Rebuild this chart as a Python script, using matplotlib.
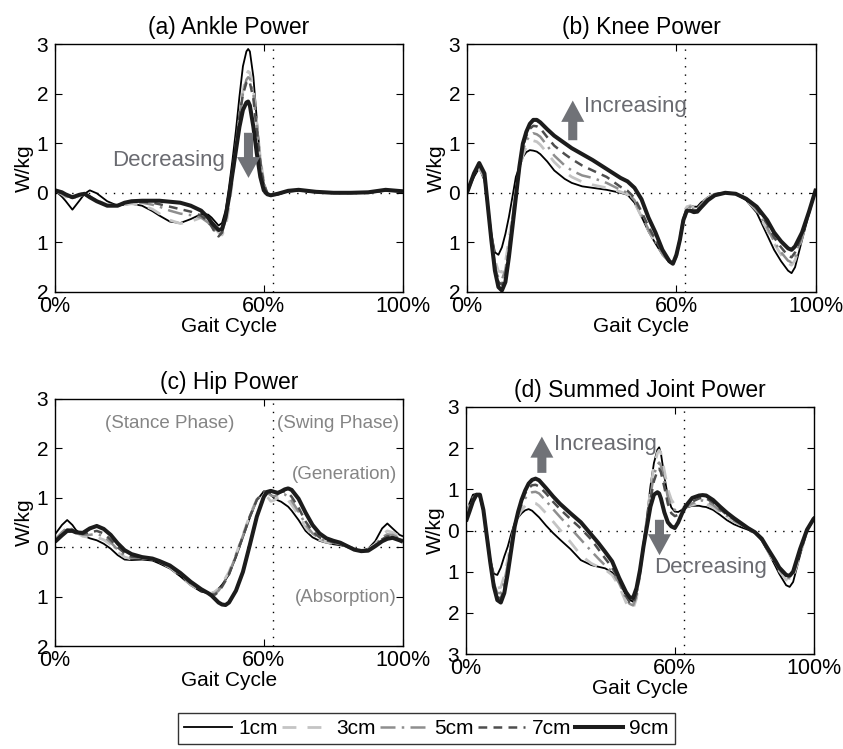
import matplotlib
matplotlib.use("Agg")
import matplotlib.pyplot as plt
from matplotlib.lines import Line2D

plt.rcParams['font.family'] = ['Liberation Sans', 'DejaVu Sans']

# ---------------- data ----------------
series_labels = ["1cm", "3cm", "5cm", "7cm", "9cm"]
x_ticks = [0, 60, 100]
x_ticklabels = ["0%", "60%", "100%"]
toe_off = 62.5

# (a) Ankle power
xa = [0, 2, 3, 5, 7, 8.5, 10, 12, 15, 18,
      20, 22, 25, 28, 30, 33, 36, 39, 42, 44,
      45, 46, 47, 48, 49, 50, 51, 52, 53, 54,
      55, 55.5, 56, 57, 58, 59, 60, 61, 62, 64,
      67, 70, 75, 80, 85, 90, 95, 100]
ankle_1 = [0.05, -0.08, -0.16, -0.34, -0.16, -0.02, 0.05, -0.01, -0.17, -0.26,
           -0.24, -0.22, -0.26, -0.37, -0.46, -0.58, -0.61, -0.53, -0.43, -0.44,
           -0.5, -0.58, -0.66, -0.61, -0.36, 0.11, 0.66, 1.26, 1.94, 2.55,
           2.85, 2.9, 2.85, 2.34, 1.47, 0.66, 0.18, -0.02, -0.06, -0.03,
           0.03, 0.05, 0.01, 0.0, 0.0, 0.0, 0.04, 0.03]
ankle_3 = [0.05, -0.03, -0.08, -0.14, -0.06, -0.03, -0.06, -0.15, -0.24, -0.26,
           -0.24, -0.22, -0.25, -0.33, -0.42, -0.55, -0.62, -0.58, -0.5, -0.55,
           -0.62, -0.72, -0.8, -0.85, -0.7, -0.3, 0.25, 0.85, 1.5, 2.05,
           2.38, 2.45, 2.42, 2.1, 1.4, 0.7, 0.22, 0.0, -0.06, -0.03,
           0.03, 0.05, 0.01, 0.0, 0.0, 0.0, 0.05, 0.03]
ankle_5 = [0.05, -0.02, -0.06, -0.12, -0.05, -0.03, -0.07, -0.16, -0.25, -0.25,
           -0.21, -0.19, -0.2, -0.24, -0.28, -0.36, -0.42, -0.45, -0.5, -0.6,
           -0.68, -0.78, -0.85, -0.8, -0.55, -0.12, 0.4, 0.95, 1.55, 2.0,
           2.28, 2.33, 2.3, 2.0, 1.35, 0.65, 0.2, -0.01, -0.06, -0.03,
           0.03, 0.05, 0.01, 0.0, 0.0, 0.0, 0.05, 0.03]
ankle_7 = [0.05, 0.0, -0.05, -0.1, -0.04, -0.03, -0.08, -0.17, -0.26, -0.25,
           -0.2, -0.18, -0.18, -0.2, -0.23, -0.28, -0.33, -0.38, -0.46, -0.58,
           -0.68, -0.8, -0.88, -0.8, -0.5, -0.05, 0.45, 1.0, 1.55, 1.98,
           2.22, 2.27, 2.22, 1.9, 1.25, 0.6, 0.17, -0.01, -0.06, -0.03,
           0.03, 0.05, 0.01, 0.0, 0.0, 0.0, 0.05, 0.03]
ankle_9 = [0.05, 0.01, -0.03, -0.09, -0.04, -0.02, -0.09, -0.17, -0.26, -0.26,
           -0.2, -0.17, -0.16, -0.16, -0.16, -0.18, -0.2, -0.26, -0.36, -0.5,
           -0.6, -0.68, -0.75, -0.73, -0.5, -0.09, 0.39, 0.86, 1.33, 1.67,
           1.82, 1.84, 1.76, 1.33, 0.79, 0.32, 0.05, -0.03, -0.05, -0.02,
           0.04, 0.06, 0.02, 0.0, 0.0, 0.01, 0.06, 0.03]

# (b) Knee power
xb = [0, 2, 3.5, 5, 6, 7, 8, 9, 10, 11, 12, 13, 14, 15, 16, 17, 18, 19, 20, 21,
      23, 25, 28, 30, 33, 36, 40, 44, 46, 48,
      50, 52, 54, 56, 58, 59, 60, 61, 62, 63,
      64, 65, 66, 67, 69, 71, 74, 77, 80, 83,
      86, 88, 90, 92, 93, 94, 96, 98, 100]
knee_1 = [0, 0.32, 0.5, 0.25, -0.29, -0.83, -1.2, -1.25, -1.1, -0.83, -0.49, -0.09, 0.32, 0.52, 0.72, 0.82, 0.86, 0.85, 0.83, 0.78,
          0.63, 0.45, 0.28, 0.2, 0.13, 0.1, 0.06, 0.0, -0.04, -0.2,
          -0.48, -0.78, -1.02, -1.25, -1.4, -1.44, -1.3, -0.95, -0.52, -0.3,
          -0.26, -0.28, -0.28, -0.2, -0.09, -0.02, 0.0, -0.02, -0.15, -0.4,
          -0.85, -1.15, -1.38, -1.57, -1.62, -1.5, -0.95, -0.42, 0.08]
knee_3 = [0, 0.35, 0.5, 0.3, -0.29, -0.9, -1.35, -1.58, -1.6, -1.4, -0.95, -0.45, 0.05, 0.45, 0.75, 0.93, 1.02, 1.05, 1.03, 0.97,
          0.8, 0.62, 0.42, 0.32, 0.22, 0.16, 0.1, 0.02, -0.03, -0.2,
          -0.48, -0.76, -1.0, -1.23, -1.4, -1.44, -1.3, -0.93, -0.5, -0.28,
          -0.26, -0.3, -0.3, -0.22, -0.1, -0.03, 0.0, -0.02, -0.14, -0.36,
          -0.75, -1.02, -1.25, -1.42, -1.46, -1.36, -0.9, -0.4, 0.08]
knee_5 = [0, 0.37, 0.55, 0.33, -0.29, -0.93, -1.45, -1.72, -1.75, -1.55, -1.08, -0.52, 0.0, 0.47, 0.85, 1.05, 1.15, 1.2, 1.18, 1.13,
          0.95, 0.75, 0.55, 0.45, 0.35, 0.3, 0.2, 0.06, 0.0, -0.15,
          -0.44, -0.74, -0.98, -1.22, -1.4, -1.44, -1.28, -0.93, -0.52, -0.3,
          -0.28, -0.32, -0.32, -0.24, -0.11, -0.03, 0.0, -0.02, -0.13, -0.34,
          -0.7, -0.98, -1.2, -1.37, -1.4, -1.3, -0.88, -0.4, 0.08]
knee_7 = [0, 0.38, 0.58, 0.36, -0.29, -0.95, -1.5, -1.8, -1.85, -1.65, -1.18, -0.6, -0.05, 0.5, 0.92, 1.15, 1.29, 1.35, 1.34, 1.3,
          1.12, 0.95, 0.78, 0.68, 0.55, 0.45, 0.32, 0.12, 0.04, -0.1,
          -0.38, -0.68, -0.95, -1.2, -1.4, -1.44, -1.27, -0.94, -0.54, -0.33,
          -0.32, -0.35, -0.35, -0.27, -0.13, -0.04, 0.0, -0.02, -0.12, -0.31,
          -0.63, -0.9, -1.1, -1.27, -1.3, -1.2, -0.85, -0.39, 0.08]
knee_9 = [0, 0.39, 0.6, 0.39, -0.29, -0.97, -1.57, -1.9, -1.97, -1.8, -1.3, -0.7, -0.09, 0.52, 0.99, 1.23, 1.39, 1.47, 1.47, 1.42,
          1.28, 1.15, 1.0, 0.9, 0.78, 0.66, 0.48, 0.3, 0.23, 0.1,
          -0.13, -0.5, -0.8, -1.15, -1.38, -1.43, -1.25, -0.95, -0.55, -0.36,
          -0.36, -0.39, -0.38, -0.3, -0.15, -0.05, 0.0, -0.02, -0.12, -0.28,
          -0.55, -0.8, -0.98, -1.12, -1.15, -1.08, -0.8, -0.38, 0.08]

# (c) Hip power
xc = [0, 2, 3.5, 5, 6, 8, 10, 12, 14, 16,
      18, 20, 22, 25, 28, 30, 33, 36, 39, 42,
      44, 45, 46, 47, 48, 49, 50, 52, 54, 56,
      58, 60, 61, 62, 63, 64, 65, 66, 67, 68,
      70, 72, 74, 76, 78, 80, 82, 84, 86, 88,
      90, 92, 94, 95.5, 97, 99, 100]
hip_1 = [0.26, 0.45, 0.55, 0.45, 0.35, 0.24, 0.18, 0.14, 0.07, -0.03,
         -0.16, -0.25, -0.26, -0.25, -0.27, -0.33, -0.43, -0.59, -0.77, -0.9,
         -0.93, -0.93, -0.9, -0.84, -0.76, -0.66, -0.55, -0.2, 0.2, 0.6,
         0.95, 1.13, 1.12, 1.06, 0.99, 0.95, 0.92, 0.87, 0.82, 0.74,
         0.55, 0.33, 0.2, 0.13, 0.09, 0.06, 0.04, 0.01, -0.04, -0.07,
         -0.03, 0.12, 0.38, 0.48, 0.38, 0.25, 0.22]
hip_3 = [0.16, 0.3, 0.38, 0.35, 0.3, 0.22, 0.2, 0.2, 0.15, 0.05,
         -0.1, -0.2, -0.24, -0.22, -0.24, -0.3, -0.41, -0.58, -0.76, -0.88,
         -0.93, -0.93, -0.9, -0.84, -0.74, -0.62, -0.5, -0.15, 0.25, 0.65,
         0.97, 1.08, 1.02, 0.93, 0.95, 1.0, 1.02, 1.0, 0.95, 0.86,
         0.65, 0.4, 0.24, 0.15, 0.1, 0.08, 0.05, 0.02, -0.03, -0.06,
         -0.04, 0.06, 0.25, 0.33, 0.3, 0.22, 0.2]
hip_5 = [0.14, 0.3, 0.4, 0.36, 0.31, 0.25, 0.25, 0.27, 0.22, 0.1,
         -0.05, -0.17, -0.22, -0.22, -0.24, -0.3, -0.4, -0.56, -0.74, -0.87,
         -0.93, -0.95, -0.94, -0.88, -0.78, -0.66, -0.53, -0.17, 0.23, 0.63,
         0.96, 1.1, 1.1, 1.05, 1.03, 1.06, 1.08, 1.07, 1.02, 0.94,
         0.72, 0.46, 0.28, 0.18, 0.12, 0.09, 0.06, 0.02, -0.03, -0.06,
         -0.05, 0.04, 0.2, 0.26, 0.25, 0.18, 0.16]
hip_7 = [0.12, 0.27, 0.36, 0.35, 0.3, 0.27, 0.3, 0.33, 0.28, 0.15,
         0.0, -0.12, -0.19, -0.21, -0.23, -0.29, -0.39, -0.55, -0.73, -0.87,
         -0.94, -0.96, -0.96, -0.9, -0.8, -0.68, -0.55, -0.18, 0.22, 0.62,
         0.96, 1.12, 1.13, 1.1, 1.07, 1.08, 1.12, 1.13, 1.1, 1.02,
         0.8, 0.52, 0.32, 0.2, 0.14, 0.1, 0.07, 0.02, -0.04, -0.07,
         -0.06, 0.03, 0.16, 0.22, 0.22, 0.16, 0.14]
hip_9 = [0.11, 0.24, 0.33, 0.33, 0.3, 0.29, 0.38, 0.43, 0.37, 0.25,
         0.08, -0.06, -0.14, -0.2, -0.23, -0.28, -0.37, -0.52, -0.7, -0.85,
         -0.93, -0.98, -1.05, -1.12, -1.16, -1.17, -1.12, -0.88, -0.5, 0.05,
         0.62, 1.02, 1.12, 1.14, 1.12, 1.1, 1.13, 1.17, 1.19, 1.16,
         0.98, 0.7, 0.45, 0.28, 0.18, 0.13, 0.09, 0.02, -0.05, -0.08,
         -0.07, 0.02, 0.12, 0.17, 0.19, 0.14, 0.11]

# (d) Summed joint power
xd = [0, 1, 2, 3, 4, 5, 6, 7, 8, 9,
      10, 11, 12, 13, 14, 15, 16, 17, 18, 19,
      20, 21, 23, 25, 27, 30, 33, 36, 38, 40,
      42, 44, 46, 47, 48, 49, 50, 51, 52, 53,
      54, 55, 55.5, 56, 57, 58, 59, 60, 61, 62,
      63, 65, 67, 68, 69, 71, 73, 75, 77, 79,
      81, 83, 85, 87, 89, 90, 92, 93, 94, 96,
      98, 100]
sum_1 = [0.34, 0.66, 0.87, 0.89, 0.79, 0.46, -0.1, -0.71, -1.05, -1.08,
         -0.9, -0.63, -0.39, -0.08, 0.18, 0.32, 0.42, 0.49, 0.52, 0.48,
         0.4, 0.32, 0.12, -0.06, -0.22, -0.45, -0.72, -0.84, -0.88, -0.92,
         -1.02, -1.25, -1.58, -1.68, -1.73, -1.52, -0.96, -0.31, 0.34, 1.07,
         1.64, 1.96, 2.02, 1.88, 1.31, 0.83, 0.56, 0.46, 0.45, 0.5,
         0.55, 0.6, 0.6, 0.58, 0.57, 0.5, 0.38, 0.25, 0.15, 0.08,
         0.02, -0.06, -0.25, -0.55, -0.88, -1.05, -1.33, -1.37, -1.25, -0.6,
         0.0, 0.34]
sum_3 = [0.3, 0.6, 0.82, 0.88, 0.82, 0.5, -0.1, -0.75, -1.2, -1.4,
         -1.38, -1.1, -0.7, -0.25, 0.12, 0.35, 0.5, 0.6, 0.66, 0.68,
         0.66, 0.6, 0.42, 0.22, 0.02, -0.28, -0.6, -0.8, -0.88, -0.95,
         -1.08, -1.35, -1.75, -1.88, -1.9, -1.65, -1.05, -0.35, 0.3, 1.0,
         1.55, 1.88, 1.95, 1.88, 1.45, 1.0, 0.75, 0.62, 0.56, 0.55,
         0.57, 0.62, 0.66, 0.66, 0.64, 0.56, 0.44, 0.32, 0.22, 0.13,
         0.05, -0.05, -0.24, -0.53, -0.83, -0.98, -1.2, -1.22, -1.12, -0.6,
         0.0, 0.3]
sum_5 = [0.28, 0.56, 0.8, 0.88, 0.84, 0.5, -0.12, -0.78, -1.28, -1.52,
         -1.52, -1.25, -0.82, -0.32, 0.1, 0.4, 0.62, 0.78, 0.88, 0.93,
         0.94, 0.9, 0.72, 0.52, 0.33, 0.06, -0.22, -0.5, -0.68, -0.85,
         -1.0, -1.28, -1.65, -1.78, -1.82, -1.6, -1.05, -0.4, 0.22, 0.85,
         1.35, 1.6, 1.65, 1.58, 1.2, 0.82, 0.6, 0.5, 0.47, 0.5,
         0.56, 0.66, 0.72, 0.73, 0.71, 0.62, 0.48, 0.35, 0.24, 0.14,
         0.05, -0.05, -0.23, -0.52, -0.8, -0.95, -1.15, -1.16, -1.05, -0.55,
         0.0, 0.3]
sum_7 = [0.25, 0.5, 0.75, 0.87, 0.86, 0.5, -0.14, -0.8, -1.32, -1.62,
         -1.65, -1.4, -0.93, -0.4, 0.1, 0.44, 0.7, 0.9, 1.03, 1.1,
         1.11, 1.07, 0.9, 0.7, 0.52, 0.28, 0.05, -0.22, -0.45, -0.68,
         -0.9, -1.22, -1.6, -1.74, -1.78, -1.55, -1.02, -0.4, 0.18, 0.75,
         1.2, 1.45, 1.5, 1.42, 1.05, 0.65, 0.42, 0.35, 0.38, 0.46,
         0.55, 0.7, 0.78, 0.8, 0.78, 0.68, 0.52, 0.38, 0.27, 0.16,
         0.06, -0.04, -0.22, -0.5, -0.78, -0.92, -1.1, -1.12, -1.02, -0.55,
         0.0, 0.3]
sum_9 = [0.22, 0.46, 0.71, 0.87, 0.87, 0.5, -0.15, -0.79, -1.36, -1.69,
         -1.75, -1.52, -1.04, -0.47, 0.1, 0.46, 0.75, 0.97, 1.14, 1.23,
         1.26, 1.22, 1.03, 0.83, 0.65, 0.42, 0.2, -0.1, -0.3, -0.52,
         -0.75, -1.15, -1.5, -1.62, -1.64, -1.4, -0.96, -0.39, 0.1, 0.58,
         0.87, 0.93, 0.9, 0.78, 0.44, 0.2, 0.1, 0.06, 0.2, 0.4,
         0.58, 0.79, 0.85, 0.86, 0.85, 0.74, 0.58, 0.43, 0.3, 0.18,
         0.06, -0.04, -0.2, -0.48, -0.75, -0.9, -1.08, -1.1, -1.0, -0.45,
         0.02, 0.3]

panels = [
    ("(a) Ankle Power", xa, [ankle_1, ankle_3, ankle_5, ankle_7, ankle_9], (-2, 3)),
    ("(b) Knee Power", xb, [knee_1, knee_3, knee_5, knee_7, knee_9], (-2, 3)),
    ("(c) Hip Power", xc, [hip_1, hip_3, hip_5, hip_7, hip_9], (-2, 3)),
    ("(d) Summed Joint Power", xd, [sum_1, sum_3, sum_5, sum_7, sum_9], (-3, 3)),
]

# ---------------- styles ----------------
styles = [
    dict(color="#000000", lw=1.3, ls="-"),
    dict(color="#c4c4c4", lw=2.0, ls=(0, (5, 4))),
    dict(color="#8e8e8e", lw=1.8, ls=(0, (6, 2.5, 1, 2.5))),
    dict(color="#4e4e4e", lw=1.8, ls=(0, (3.5, 2.5))),
    dict(color="#1c1c1c", lw=2.9, ls="-"),
]
draw_order = [1, 2, 3, 0, 4]
ann_color = "#6a6b71"
arrow_color = "#707277"
phase_color = "#858585"

W, H = 843, 749
fig = plt.figure(figsize=(W / 100, H / 100), dpi=100)

def rect(l, t, r, b):
    return [l / W, 1 - b / H, (r - l) / W, (b - t) / H]

rects = [rect(55, 44, 403, 292), rect(467, 44, 816, 292),
         rect(55, 399, 403, 646), rect(466, 407, 814, 654)]

axes = []
for (title, xs, ys_list, ylim), r in zip(panels, rects):
    ax = fig.add_axes(r)
    axes.append(ax)
    ax.axhline(0, color="k", lw=1.0, ls=(0, (1, 5)), zorder=1)
    ax.axvline(toe_off, color="k", lw=1.0, ls=(0, (1, 5)), zorder=1)
    for i in draw_order:
        st = styles[i]
        ax.plot(xs, ys_list[i], color=st["color"], lw=st["lw"], ls=st["ls"],
                zorder=2 + i * 0.1, solid_capstyle="butt", dash_capstyle="butt",
                solid_joinstyle="round")
    ax.set_xlim(0, 100)
    ax.set_ylim(*ylim)
    ax.set_xticks(x_ticks, x_ticklabels)
    yt = list(range(ylim[0], ylim[1] + 1))
    ax.set_yticks(yt, [str(abs(v)) for v in yt])
    ax.tick_params(direction="in", top=True, right=True, length=5, width=0.8)
    ax.tick_params(axis="x", labelsize=15.5, pad=3)
    ax.tick_params(axis="y", labelsize=15, pad=5)
    for s in ax.spines.values():
        s.set_linewidth(1.0)
    ax.set_title(title, fontsize=16.5, pad=7)
    ax.set_xlabel("Gait Cycle", fontsize=15, labelpad=0)
    ax.set_ylabel("W/kg", fontsize=15, labelpad=2)

ax_a, ax_b, ax_c, ax_d = axes

def arrow(ax, x, y0, y1, head_len):
    ax.arrow(x, y0, 0, y1 - y0, width=2.6, head_width=6.6, head_length=head_len,
             length_includes_head=True, color=arrow_color, lw=0, zorder=6)

# (a)
arrow(ax_a, 55.6, 1.21, 0.30, 0.42)
ax_a.text(48.9, 0.66, "Decreasing", ha="right", va="center", fontsize=16, color=ann_color, zorder=7)
# (b)
arrow(ax_b, 30.3, 1.06, 1.86, 0.43)
ax_b.text(33.5, 1.73, "Increasing", ha="left", va="center", fontsize=16, color=ann_color, zorder=7)
# (c)
ax_c.text(33.0, 2.51, "(Stance Phase)", ha="center", va="center", fontsize=13.5, color=phase_color)
ax_c.text(98.9, 2.51, "(Swing Phase)", ha="right", va="center", fontsize=13.5, color=phase_color)
ax_c.text(98.3, 1.48, "(Generation)", ha="right", va="center", fontsize=13.5, color=phase_color)
ax_c.text(98.3, -1.01, "(Absorption)", ha="right", va="center", fontsize=13.5, color=phase_color)
# (d)
arrow(ax_d, 21.8, 1.40, 2.28, 0.51)
ax_d.text(25.3, 2.1, "Increasing", ha="left", va="center", fontsize=16, color=ann_color, zorder=7)
arrow(ax_d, 55.6, 0.26, -0.60, 0.51)
ax_d.text(54.0, -0.89, "Decreasing", ha="left", va="center", fontsize=16, color=ann_color, zorder=7)

# legend
handles = [Line2D([], [], color=st["color"], lw=st["lw"], ls=st["ls"]) for st in styles]
leg = fig.legend(handles, series_labels, loc="center", ncol=5,
                 bbox_to_anchor=(426.5 / W, 1 - 728.5 / H), fontsize=15,
                 handlelength=2.3, handletextpad=0.3, columnspacing=0.2,
                 borderpad=0.3, borderaxespad=0.0, frameon=True, fancybox=False)
leg.get_frame().set_edgecolor("black")
leg.get_frame().set_linewidth(1.0)

fig.savefig("out.png", dpi=100)
